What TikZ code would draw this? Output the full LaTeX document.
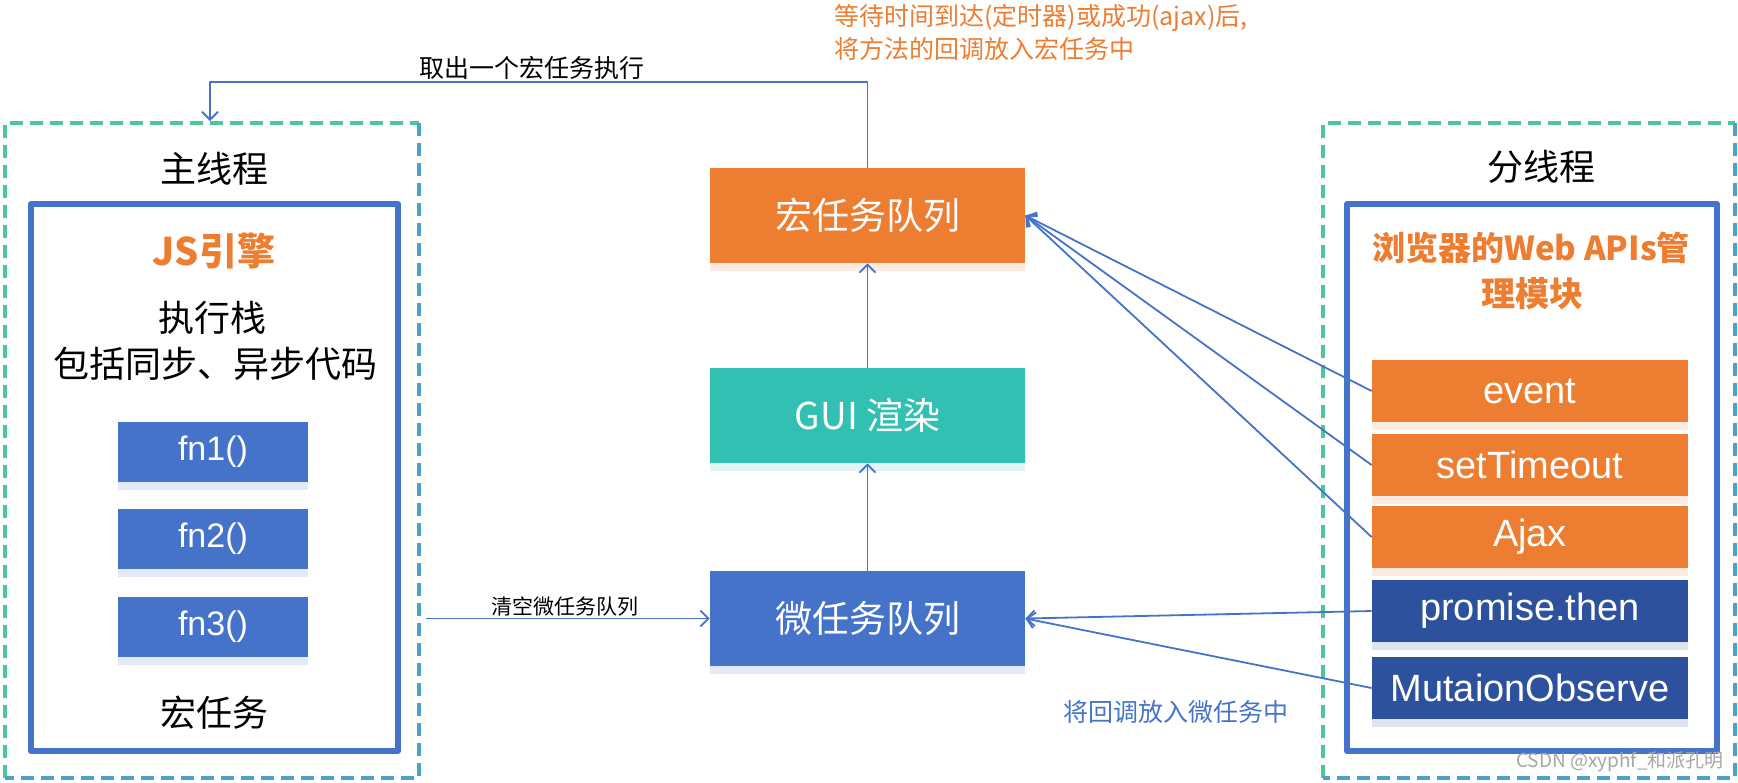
\documentclass[tikz,border=0pt]{standalone}
\usepackage{fontspec}
\setmainfont{Liberation Sans}
\newfontfamily\cjk{Noto Sans CJK SC}
\usetikzlibrary{arrows.meta,shadows}
\definecolor{jsorange}{HTML}{ED7D31}
\definecolor{jsblue}{HTML}{4673CA}
\definecolor{jsteal}{HTML}{31C0B2}
\definecolor{jsnavy}{HTML}{2E519E}
\definecolor{dashgreen}{HTML}{4CC69A}
\definecolor{dashblue}{HTML}{4AA3C6}
\newcommand{\fsz}[1]{\fontsize{#1}{#1}\selectfont}

\begin{document}
\begin{tikzpicture}[x=0.5pt,y=-0.5pt,line join=round,>={Straight Barb[length=4pt,width=8pt]},
	queue/.style={fill=#1,text=white,minimum width=157.5pt,minimum height=47.5pt,inner sep=0pt,font=\cjk\fsz{18.5pt},
		drop shadow={fill=#1!30,shadow xshift=0pt,shadow yshift=-4pt,opacity=.5}},
	fnbox/.style={fill=jsblue,text=white,minimum width=95pt,minimum height=30pt,inner sep=0pt,font=\fsz{17pt},
		drop shadow={fill=jsblue!30,shadow xshift=0pt,shadow yshift=-4pt,opacity=.5}},
	apibox/.style={fill=#1,text=white,minimum width=158pt,minimum height=31pt,inner sep=0pt,font=\fsz{19pt},
		drop shadow={fill=#1!30,shadow xshift=0pt,shadow yshift=-4pt,opacity=.5}},
	title/.style={font=\cjk\fsz{18pt}},
	hint/.style={font=\cjk\bfseries\fsz{#1},text=jsorange},
	note/.style={font=\cjk\fsz{#1}},
	link/.style={->,draw=jsblue,line width=0.9pt},
	frame/.style={line width=2pt,dash pattern=on 6.5pt off 3.5pt}]
	\useasboundingbox (0,0) rectangle (1738,782);
	% main thread
	\draw[frame,dashgreen] (5,778)--(5,123)--(419,123);
	\draw[frame,dashblue] (419,123)--(419,778)--(5,778);
	\draw[jsblue,line width=3pt] (31,204) rectangle (398,751);
	\node[title] (mainT) at (214,169) {主线程};
	\node[hint=19pt] (engine) at (214,251) {JS引擎};
	\node[title] (stack) at (212,318) {执行栈};
	\node[title] (stackB) at (215,364) {包括同步、异步代码};
	\node[fnbox] (fnA) at (213,452) {fn1()};
	\node[fnbox] (fnB) at (213,539) {fn2()};
	\node[fnbox] (fnC) at (213,627) {fn3()};
	\node[title] (macroT) at (214,713) {宏任务};
	% queues
	\node[queue=jsorange] (macro) at (867.5,215.5) {宏任务队列};
	\node[queue=jsteal] (gui) at (867.5,415.5) {GUI 渲染};
	\node[queue=jsblue] (micro) at (867.5,618.5) {微任务队列};
	% other thread
	\draw[frame,dashgreen] (1323,778)--(1323,123)--(1735,123);
	\draw[frame,dashblue] (1735,123)--(1735,778)--(1323,778);
	\draw[jsblue,line width=3pt] (1347,204) rectangle (1717,751);
	\node[title] (subT) at (1541,167) {分线程};
	\node[hint=16.5pt] (webA) at (1531,248) {浏览器的Web APIs管};
	\node[hint=17pt] (webB) at (1532,294) {理模块};
	\node[apibox=jsorange] (event) at (1530,391) {event};
	\node[apibox=jsorange] (timer) at (1530,465) {setTimeout};
	\node[apibox=jsorange] (ajax) at (1530,537) {Ajax};
	\node[apibox=jsnavy] (promise) at (1530,611) {promise.then};
	\node[apibox=jsnavy] (observer) at (1530,688) {MutaionObserve};
	% links
	\coordinate (bend) at (210,82);
	\coordinate (mainIn) at (210,121);
	\coordinate (mainOut) at (426,618.5);
	\draw[link] (micro) -- (gui);
	\draw[link] (gui) -- (macro);
	\draw[link] (macro.north) |- (bend) -- (mainIn);
	\draw[link] (mainOut) -- (micro.west);
	\foreach \s in {event,timer,ajax} \draw[link] (\s.west) -- (macro.east);
	\foreach \s in {promise,observer} \draw[link] (\s.west) -- (micro.east);
	% texts
	\node[note=12.5pt] (takeT) at (532,68) {取出一个宏任务执行};
	\node[note=10.5pt] (clearT) at (565,606) {清空微任务队列};
	\node[note=12.5pt,text=jsorange,anchor=west,inner sep=0pt] (waitA) at (834,18) {等待时间到达(定时器)或成功(ajax)后,};
	\node[note=12.5pt,text=jsorange,anchor=west,inner sep=0pt] (waitB) at (834,49) {将方法的回调放入宏任务中};
	\node[note=12.5pt,text=jsblue] (backT) at (1176,712) {将回调放入微任务中};
	\node[note=9.5pt,text=black!35] (mark) at (1620,762) {CSDN @xyphf\_和派孔明};
\end{tikzpicture}
\end{document}
